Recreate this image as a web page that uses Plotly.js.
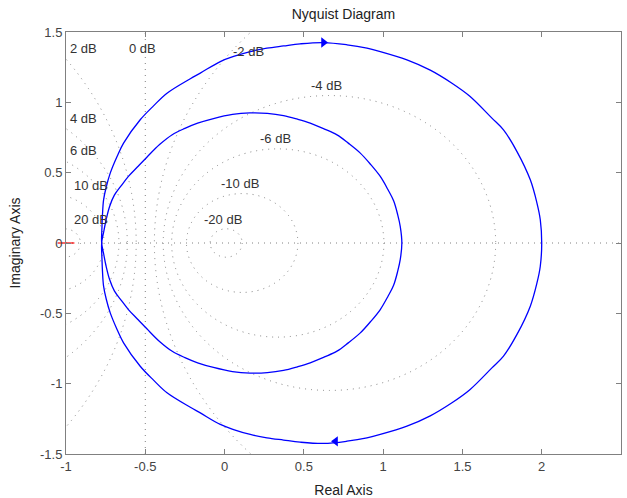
<!DOCTYPE html>
<html><head><meta charset="utf-8">
<script src="https://cdn.plot.ly/plotly-3.0.1.min.js"></script>
<style>html,body{margin:0;padding:0;background:#fff}#chart{width:627px;height:498px}</style>
</head><body><div id="chart"></div>
<script>
// Axis ticks
const xTickVals = [-1, -0.5, 0, 0.5, 1, 1.5, 2, 2.5];
const xTickText = ['-1', '-0.5', '0', '0.5', '1', '1.5', '2', '2.5'];
const yTickVals = [-1.5, -1, -0.5, 0, 0.5, 1, 1.5];
const yTickText = ['-1.5', '-1', '-0.5', '0', '0.5', '1', '1.5'];

// Constant-magnitude (M) circle levels of the Nyquist grid
const gridDb = [-20, -10, -6, -4, -2, 0, 2, 4, 6, 10, 20];
const gridLabels = ['-20 dB', '-10 dB', '-6 dB', '-4 dB', '-2 dB', '0 dB', '2 dB', '4 dB', '6 dB', '10 dB', '20 dB'];
const gridLabelRe = [-0.135, -0.03, 0.218, 0.537, 0.044, -0.61, -0.982, -0.982, -0.982, -0.959, -0.959];
const gridLabelIm = [0.165, 0.426, 0.741, 1.119, 1.361, 1.38, 1.38, 0.885, 0.657, 0.409, 0.17];

// Nyquist curve: upper half of the outer loop (from 2 to the crossing)
const outerRe = [2.000, 1.991, 1.970, 1.928, 1.844, 1.759, 1.686, 1.545, 1.434, 1.297, 1.150, 0.982, 0.898, 0.772, 0.624, 0.477, 0.372, 0.267, 0.162, 0.057, -0.027, -0.153, -0.216, -0.363, -0.448, -0.532, -0.637, -0.678, -0.721, -0.746, -0.763, -0.770, -0.773, -0.775];
const outerIm = [0.000, 0.165, 0.284, 0.449, 0.650, 0.804, 0.888, 1.045, 1.136, 1.229, 1.302, 1.361, 1.385, 1.409, 1.425, 1.416, 1.401, 1.385, 1.361, 1.326, 1.290, 1.208, 1.168, 1.065, 0.975, 0.876, 0.710, 0.615, 0.497, 0.400, 0.307, 0.200, 0.117, 0.000];
// upper half of the inner loop (from the crossing to the high-frequency end)
const innerRe = [-0.775, -0.762, -0.748, -0.725, -0.695, -0.650, -0.605, -0.550, -0.490, -0.410, -0.330, -0.250, -0.170, -0.070, 0.050, 0.160, 0.270, 0.372, 0.460, 0.540, 0.630, 0.709, 0.780, 0.856, 0.920, 0.982, 1.030, 1.066, 1.092, 1.108, 1.118];
const innerIm = [0.000, 0.080, 0.160, 0.260, 0.340, 0.410, 0.475, 0.540, 0.610, 0.700, 0.770, 0.815, 0.852, 0.885, 0.914, 0.925, 0.922, 0.906, 0.880, 0.852, 0.810, 0.769, 0.710, 0.639, 0.560, 0.473, 0.380, 0.300, 0.200, 0.117, 0.000];

// Direction arrows
const arrowRe = [0.624, 0.700];
const arrowIm = [1.425, -1.410];

// Critical point
const critRe = [-1];
const critIm = [0];

// ---- build the curve: w from 0 to +inf, then -inf to 0 (mirror image)
const posRe = outerRe.concat(innerRe.slice(1));
const posIm = outerIm.map(v => -v).concat(innerIm.slice(1));
const negRe = posRe.slice().reverse();
const negIm = posIm.slice().reverse().map(v => -v);
const curveRe = posRe.concat(negRe.slice(1));
const curveIm = posIm.concat(negIm.slice(1));

const gridColor = '#808080';
const gridDash = '1px,5px';
const shapes = [];
// real axis dotted line
shapes.push({type: 'line', xref: 'x', yref: 'y', x0: -1, x1: 2.5, y0: 0, y1: 0, layer: 'below', line: {color: gridColor, width: 1, dash: gridDash}});
gridDb.forEach(db => {
  if (db === 0) {
    shapes.push({type: 'line', xref: 'x', yref: 'y', x0: -0.5, x1: -0.5, y0: -1.5, y1: 1.5, layer: 'below', line: {color: gridColor, width: 1, dash: gridDash}});
  } else {
    const m = Math.pow(10, db / 20), m2 = m * m;
    const c = m2 / (1 - m2), r = Math.abs(m / (1 - m2));
    shapes.push({type: 'circle', xref: 'x', yref: 'y', x0: c - r, x1: c + r, y0: -r, y1: r, layer: 'below', line: {color: gridColor, width: 1, dash: gridDash}});
  }
});

const annotations = gridLabels.map((t, i) => ({
  xref: 'x', yref: 'y', x: gridLabelRe[i], y: gridLabelIm[i], text: t, showarrow: false,
  xanchor: 'left', yanchor: 'middle', borderpad: 0,
  font: {family: 'Liberation Sans, Arial, sans-serif', size: 13, color: '#333'}
}));

const traces = [
  {x: curveRe, y: curveIm, type: 'scatter', mode: 'lines', line: {color: '#0000ff', width: 1.3, shape: 'spline', smoothing: 1}, hoverinfo: 'skip'},
  {x: arrowRe, y: arrowIm, type: 'scatter', mode: 'markers', marker: {symbol: ['triangle-right', 'triangle-left'], size: 9, color: '#0000ff'}, hoverinfo: 'skip'},
  {x: critRe, y: critIm, type: 'scatter', mode: 'markers', cliponaxis: false, marker: {symbol: 'line-ew', size: 12, line: {color: '#ff0000', width: 1.2}}, hoverinfo: 'skip'}
];

const axisCommon = {
  showgrid: false, zeroline: false, showline: true, mirror: 'ticks', linecolor: '#808080', linewidth: 1,
  ticks: 'inside', ticklen: 5, tickcolor: '#808080', tickwidth: 1,
  tickfont: {family: 'Liberation Sans, Arial, sans-serif', size: 13, color: '#444'}
};

const layout = {
  width: 627, height: 498,
  margin: {l: 66, r: 6, t: 32, b: 44},
  paper_bgcolor: '#fff', plot_bgcolor: '#fff',
  showlegend: false,
  title: {text: 'Nyquist Diagram', x: 0.5, xref: 'paper', y: 1 - 14 / 498, yref: 'container', yanchor: 'middle',
          font: {family: 'Liberation Sans, Arial, sans-serif', size: 14, color: '#222'}},
  xaxis: Object.assign({}, axisCommon, {range: [-1, 2.5], tickmode: 'array', tickvals: xTickVals, ticktext: xTickText,
          title: {text: 'Real Axis', standoff: 12, font: {family: 'Liberation Sans, Arial, sans-serif', size: 14, color: '#222'}}}),
  yaxis: Object.assign({}, axisCommon, {range: [-1.5, 1.5], tickmode: 'array', tickvals: yTickVals, ticktext: yTickText,
          title: {text: 'Imaginary Axis', standoff: 16, font: {family: 'Liberation Sans, Arial, sans-serif', size: 14, color: '#222'}}}),
  shapes: shapes,
  annotations: annotations
};

Plotly.newPlot('chart', traces, layout, {displayModeBar: false, staticPlot: true});
</script></body></html>
